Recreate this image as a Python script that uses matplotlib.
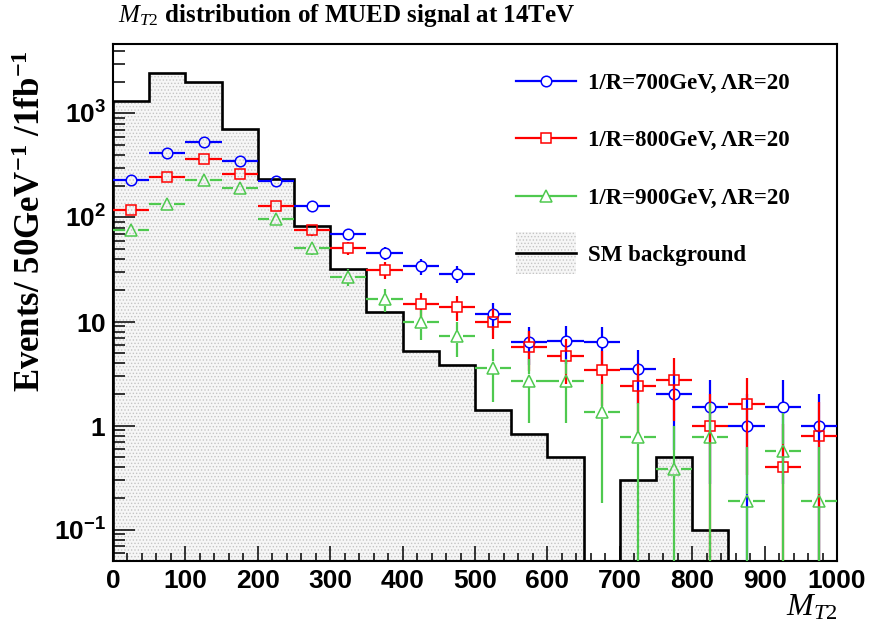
import numpy as np
import matplotlib
matplotlib.use("Agg")
import matplotlib.pyplot as plt
from matplotlib.collections import LineCollection
from matplotlib.lines import Line2D
from matplotlib.patches import Patch, Rectangle
from matplotlib.legend_handler import HandlerPatch
from matplotlib.ticker import FixedLocator, MultipleLocator, LogLocator, NullFormatter, FixedFormatter

plt.rcParams['mathtext.fontset'] = 'custom'
plt.rcParams['mathtext.rm'] = 'Liberation Serif'
plt.rcParams['mathtext.it'] = 'Liberation Serif:italic'
plt.rcParams['mathtext.bf'] = 'Liberation Serif:bold'
plt.rcParams['mathtext.sf'] = 'Liberation Sans:bold'
plt.rcParams['hatch.linewidth'] = 0.6

# ---------------- data ----------------
bin_edges = [0, 50, 100, 150, 200, 250, 300, 350, 400, 450, 500,
             550, 600, 650, 700, 750, 800, 850, 900, 950, 1000]

sm_background = [1310, 2450, 2000, 715, 235, 82, 32, 12.3, 5.2, 3.8,
                 1.4, 0.83, 0.5, 0, 0.3, 0.5, 0.1, 0, 0, 0]

mued_700 = [230, 415, 530, 347, 222, 130, 70, 45.7, 34, 28.8,
            11.8, 6.3, 6.5, 6.3, 3.5, 2.0, 1.5, 1.0, 1.5, 1.0]

mued_800 = [118, 244, 366, 259, 128, 75, 51, 31.4, 14.8, 13.9,
            10.0, 5.7, 4.7, 3.4, 2.4, 2.77, 1.0, 1.6, 0.4, 0.79]

mued_900 = [76, 135, 230, 193, 97, 51, 27, 16.3, 9.8, 7.2,
            3.6, 2.7, 2.7, 1.34, 0.77, 0.38, 0.77, 0.19, 0.575, 0.19]

series_labels = ['1/R=700GeV, \u039bR=20', '1/R=800GeV, \u039bR=20',
                 '1/R=900GeV, \u039bR=20', 'SM background']

x_ticks = [0, 100, 200, 300, 400, 500, 600, 700, 800, 900, 1000]
y_ticks = [0.1, 1, 10, 100, 1000]
y_tick_labels = [r'$\mathsf{10^{-1}}$', r'$\mathsf{1}$', r'$\mathsf{10}$',
                 r'$\mathsf{10^{2}}$', r'$\mathsf{10^{3}}$']

# ---------------- layout ----------------
W, H = 872, 629
L, R, B, T = 113 / W, 837 / W, 1 - 561 / H, 1 - 43.5 / H
XMIN, XMAX = 0, 1000
YMIN, YMAX = 0.05, 4700

fig = plt.figure(figsize=(W / 100, H / 100), dpi=100)
ax = fig.add_axes([L, B, R - L, T - B])
ax.set_xlim(XMIN, XMAX)
ax.set_yscale('log')
ax.set_ylim(YMIN, YMAX)

edges = np.array(bin_edges, dtype=float)
centers = 0.5 * (edges[:-1] + edges[1:])

# SM background histogram (filled, dotted)
sm = np.array(sm_background, dtype=float)
ax.stairs(sm, edges, baseline=1e-4, fill=True, facecolor='#f6f6f6',
          edgecolor='#c4c4c4', hatch='.....', linewidth=0, zorder=1)
ax.stairs(sm, edges, baseline=1e-4, fill=False, color='black', linewidth=1.9, zorder=2)

# error bars with gaps around open markers (ROOT style)
ax_w_px = W * (R - L)
ax_h_px = H * (T - B)
px_per_x = ax_w_px / (XMAX - XMIN)
px_per_dec = ax_h_px / np.log10(YMAX / YMIN)


def draw_points(vals, color, marker, msize, gap_px, z):
    v = np.array(vals, dtype=float)
    err = np.sqrt(v)  # statistical error of each bin
    gx = gap_px / px_per_x
    gy = 10 ** (gap_px / px_per_dec)
    segs = []
    for i, (xc, y, e) in enumerate(zip(centers, v, err)):
        lo, hi = edges[i], edges[i + 1]
        segs.append([(lo, y), (xc - gx, y)])
        segs.append([(xc + gx, y), (hi, y)])
        top = y + e
        if top > y * gy:
            segs.append([(xc, y * gy), (xc, top)])
        bot = y - e
        if bot <= 0:
            bot = YMIN * 0.5
        if bot < y / gy:
            segs.append([(xc, y / gy), (xc, bot)])
    lc = LineCollection(segs, colors=color, linewidths=1.6, zorder=z, capstyle='butt')
    ax.add_collection(lc)
    ax.plot(centers, v, linestyle='none', marker=marker, markersize=msize,
            markerfacecolor='none', markeredgecolor=color, markeredgewidth=1.1, zorder=z + 0.1)


BLUE, RED, GREEN = '#0000ff', '#ff0000', '#4fc94f'
draw_points(mued_700, BLUE, 'o', 7.6, 5.0, 3)
draw_points(mued_800, RED, 's', 7.2, 5.0, 4)
draw_points(mued_900, GREEN, '^', 8.2, 6.5, 5)

# ---------------- axes style ----------------
for s in ax.spines.values():
    s.set_linewidth(1.5)
ax.xaxis.set_major_locator(FixedLocator(x_ticks))
ax.xaxis.set_minor_locator(MultipleLocator(20))
ax.yaxis.set_major_locator(FixedLocator(y_ticks))
ax.yaxis.set_major_formatter(FixedFormatter(y_tick_labels))
ax.yaxis.set_minor_locator(LogLocator(base=10, subs=np.arange(2, 10)))
ax.yaxis.set_minor_formatter(NullFormatter())
ax.tick_params(axis='both', which='both', direction='in', top=False, right=False)
ax.tick_params(axis='x', which='major', length=10.8, width=1.1, pad=6)
ax.tick_params(axis='x', which='minor', length=5.5, width=1.1)
ax.tick_params(axis='y', which='major', length=15.5, width=1.1, pad=5)
ax.tick_params(axis='y', which='minor', length=8.4, width=1.1)
for lab in ax.get_xticklabels():
    lab.set_fontfamily('Liberation Sans')
    lab.set_fontweight('bold')
    lab.set_fontsize(19)
for lab in ax.get_yticklabels():
    lab.set_fontsize(19)

# ---------------- texts ----------------
fig.text(118 / W, 1 - 22 / H, r'$M_{T2}$ distribution of MUED signal at 14TeV',
         family='Liberation Serif', weight='bold', fontsize=18, ha='left', va='baseline')
fig.text(32 / W, 1 - 50 / H, r'Events/ 50GeV$^{\mathbf{-1}}$ /1fb$^{\mathbf{-1}}$',
         family='Liberation Serif', weight='bold', fontsize=25, rotation=90,
         ha='center', va='top')
fig.text(837 / W, 1 - 615 / H, r'$M_{T2}$', family='Liberation Serif',
         fontsize=23, ha='right', va='baseline')

# ---------------- legend ----------------
h700 = Line2D([], [], color=BLUE, lw=1.6, marker='o', markersize=7.6,
              markerfacecolor='white', markeredgewidth=1.1)
h800 = Line2D([], [], color=RED, lw=1.6, marker='s', markersize=7.2,
              markerfacecolor='white', markeredgewidth=1.1)
h900 = Line2D([], [], color=GREEN, lw=1.6, marker='^', markersize=8.2,
              markerfacecolor='white', markeredgewidth=1.1)
sm_patch = Patch(facecolor='#f6f6f6', edgecolor='#c4c4c4', hatch='.....', linewidth=0)
sm_line = Line2D([], [], color='black', lw=1.9)


def tall_patch(legend, orig_handle, xdescent, ydescent, width, height, fontsize):
    return Rectangle((-xdescent, -ydescent - 0.8 * height), width, 2.6 * height)


leg = ax.legend([h700, h800, h900, (sm_patch, sm_line)], series_labels,
                loc='upper left', bbox_to_anchor=(516 / W, 1 - 73 / H),
                bbox_transform=fig.transFigure, frameon=False,
                prop={'family': 'Liberation Serif', 'weight': 'bold', 'size': 16.5},
                handlelength=2.6, handletextpad=0.55, labelspacing=1.58,
                borderpad=0, borderaxespad=0,
                handler_map={sm_patch: HandlerPatch(patch_func=tall_patch)})

fig.savefig('out.png', dpi=100)
